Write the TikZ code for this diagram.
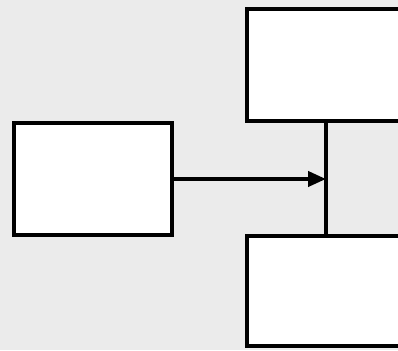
\documentclass[tikz,border=0pt]{standalone}
\usepackage{tikz}
\usetikzlibrary{arrows.meta,calc,positioning}
\definecolor{FlowInk}{HTML}{000000}
\definecolor{FlowPaper}{HTML}{FFFFFF}
\definecolor{FlowBack}{HTML}{EBEBEB}
\tikzset{
  block/.style={draw=FlowInk, line width=4pt, fill=FlowPaper, inner sep=0pt},
  link/.style={draw=FlowInk, line width=4pt},
  feed/.style={-{Triangle[length=18pt,width=15pt]}, draw=FlowInk, line width=4pt},
}

\begin{document}
\begin{tikzpicture}[x=1pt,y=1pt]
  % Paper and frame
  \fill[FlowBack] (0,0) rectangle (398,350);
  \useasboundingbox (0,0) rectangle (398,350);
  \clip (0,0) rectangle (398,350);
  % Source box on the left
  \node[block, minimum width=157.5pt, minimum height=112pt] (src) at (92.75,170.5) {};
  % Two boxes on the right, running past the edge
  \node[block, minimum width=223pt, minimum height=112pt] (upper) at (358.6,284.7) {};
  \node[block, minimum width=223pt, minimum height=110pt] (lower) at (358.6,59) {};
  % Meeting point on the bar
  \coordinate (junc) at (326,171);
  % Bar between the right boxes
  \draw[link] (upper.south -| junc) -- (lower.north -| junc);
  % Arrow into the bar
  \draw[feed] (src.east |- junc) -- (junc);
\end{tikzpicture}
\end{document}
